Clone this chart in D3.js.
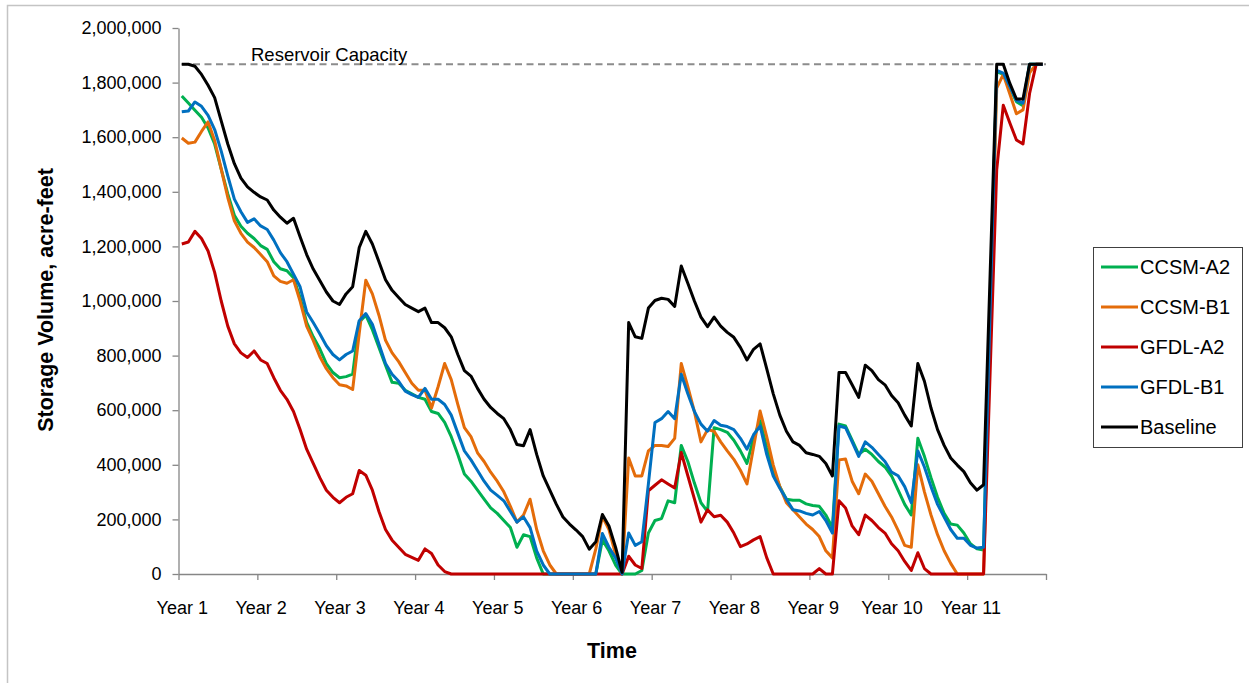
<!DOCTYPE html>
<html>
<head>
<meta charset="utf-8">
<script src="https://cdn.jsdelivr.net/npm/d3@7"></script>
<style>
  html, body { margin: 0; padding: 0; background: #fff; }
  svg { display: block; }
  text { font-family: "Liberation Sans", Arial, sans-serif; fill: #000; }
</style>
</head>
<body>
<svg id="chart" width="1249" height="683"></svg>
<script>
// ---- Data (thousand acre-feet), monthly, 11 years ----
const yearLabels = ["Year 1","Year 2","Year 3","Year 4","Year 5","Year 6","Year 7","Year 8","Year 9","Year 10","Year 11"];
const yTickValues = [0, 200, 400, 600, 800, 1000, 1200, 1400, 1600, 1800, 2000];
const capacity = 1867;
const seriesNames = ["CCSM-A2", "CCSM-B1", "GFDL-A2", "GFDL-B1", "Baseline"];
const seriesColors = ["#00b050", "#e46c0a", "#c00000", "#0070c0", "#000000"];

const ccsmA2 = [
1751,1725,1699,1673,1634,1575,1483,1392,1314,1274,
1248,1229,1203,1189,1144,1118,1111,1085,1013,922,
869,825,771,738,719,723,732,922,948,895,
830,765,702,699,673,660,647,640,595,588,
555,503,438,366,340,307,274,242,222,196,
170,98,144,137,59,0,0,0,0,0,
0,0,0,0,125,85,33,0,0,0,
13,150,196,203,268,261,471,412,333,261,
229,536,529,519,490,451,405,497,562,464,
379,320,274,270,270,257,251,248,216,170,
549,542,490,438,457,438,412,392,359,307,
255,216,497,431,353,281,222,183,179,150,
111,92,88,950,1840,1830,1780,1730,1715,1867,
1867,1867];

const ccsmB1 = [
1597,1578,1582,1621,1656,1588,1483,1379,1294,1248,
1216,1196,1170,1144,1092,1072,1065,1078,1000,908,
856,797,752,719,693,689,676,882,1076,1026,
948,856,810,778,738,699,673,673,608,686,
771,712,621,536,503,444,412,373,340,301,
248,190,216,274,163,85,33,0,0,0,
0,0,0,92,210,163,72,0,425,359,
359,451,471,471,467,497,771,686,595,484,
529,523,484,451,420,380,330,464,597,503,
399,320,261,235,209,183,163,137,85,59,
418,421,340,294,366,340,294,248,209,160,
105,98,400,301,216,144,85,39,0,0,
0,0,0,900,1780,1830,1758,1686,1700,1836,
1867,1867];

const gfdlA2 = [
1209,1216,1255,1229,1183,1105,1000,908,843,810,
793,817,784,771,719,673,640,595,529,457,
405,353,307,281,261,281,294,379,362,307,
229,163,124,98,72,61,50,92,75,33,
9,0,0,0,0,0,0,0,0,0,
0,0,0,0,0,0,0,0,0,0,
0,0,0,0,0,0,0,0,65,33,
20,305,325,345,330,315,445,360,275,190,
235,210,215,190,150,100,110,125,137,60,
0,0,0,0,0,0,0,20,0,0,
268,242,176,144,216,196,170,150,111,85,
46,13,78,20,0,0,0,0,0,0,
0,0,0,740,1480,1717,1652,1590,1575,1760,
1867,1867];

const gfdlB1 = [
1693,1696,1729,1713,1680,1628,1549,1458,1373,1327,
1288,1301,1275,1262,1223,1177,1144,1098,1052,960,
921,880,836,804,784,804,817,928,954,915,
843,771,732,706,670,657,647,680,640,640,
621,582,516,451,418,379,340,307,288,268,
229,190,209,170,85,33,0,0,0,0,
0,0,0,0,148,98,59,0,150,105,
118,330,555,569,595,569,732,660,595,549,
523,562,545,540,529,497,457,510,542,438,
359,314,274,235,231,222,216,229,196,150,
542,536,484,431,484,464,438,412,373,360,
320,261,451,392,320,255,209,163,131,131,
105,95,98,970,1845,1835,1785,1735,1725,1867,
1867,1867];

const baseline = [
1867,1867,1860,1830,1790,1745,1660,1575,1503,1450,
1418,1398,1381,1370,1333,1307,1285,1303,1235,1170,
1117,1075,1033,1000,987,1026,1052,1196,1255,1209,
1144,1078,1039,1013,987,974,961,974,921,921,
902,869,804,745,725,680,640,610,588,569,
529,474,470,529,438,359,307,255,209,183,
161,137,91,118,218,176,98,6,921,869,
863,974,1002,1010,1006,980,1128,1065,1000,941,
906,941,908,885,867,830,784,823,843,752,
660,582,523,484,471,444,438,431,405,359,
738,738,693,647,765,745,712,693,654,627,
582,542,771,706,608,529,471,425,399,375,
334,307,327,1100,1867,1867,1797,1740,1740,1867,
1867,1867];

const seriesData = [ccsmA2, ccsmB1, gfdlA2, gfdlB1, baseline];

// ---- Layout ----
const svg = d3.select("#chart");
const plot = { left: 178.5, right: 1046, top: 28, bottom: 574 };
const nMonths = baseline.length;

const x = d3.scaleLinear().domain([0, nMonths]).range([plot.left, plot.right]);
const y = d3.scaleLinear().domain([0, 2000]).range([plot.bottom, plot.top]);
const axisColor = "#868686";

// outer border
svg.append("rect").attr("x", 7.5).attr("y", 5.5).attr("width", 1400).attr("height", 800)
  .attr("fill", "none").attr("stroke", "#c4c4c4").attr("stroke-width", 1.5);

// y axis
const yAxis = svg.append("g").attr("transform", `translate(${plot.left},0)`)
  .call(d3.axisLeft(y).tickValues(yTickValues).tickSize(6).tickSizeOuter(0)
    .tickFormat(d => d3.format(",")(d * 1000)));
yAxis.select(".domain").attr("stroke", axisColor).attr("stroke-width", 1.3);
yAxis.selectAll(".tick line").attr("stroke", axisColor).attr("stroke-width", 1.3);
yAxis.selectAll(".tick text").attr("x", -17).attr("font-size", 18)
  .attr("font-family", "Liberation Sans, Arial, sans-serif").attr("fill", "#000");

// x axis (tick marks at year boundaries)
const yearBounds = d3.range(0, nMonths + 1, 12);
const xAxis = svg.append("g").attr("transform", `translate(0,${plot.bottom})`)
  .call(d3.axisBottom(x).tickValues(yearBounds).tickSize(6).tickSizeOuter(0).tickFormat(""));
xAxis.select(".domain").attr("stroke", axisColor).attr("stroke-width", 1.3);
xAxis.selectAll(".tick line").attr("stroke", axisColor).attr("stroke-width", 1.3);

// x labels centered on first month of each year
const labelPos = yearLabels.map((d, k) => k * 12 + 0.5);
const xLab = svg.append("g").attr("transform", `translate(0,${plot.bottom})`)
  .call(d3.axisBottom(x).tickValues(labelPos).tickSize(0)
    .tickFormat((d, k) => yearLabels[k]));
xLab.select(".domain").remove();
xLab.selectAll(".tick text").attr("y", 34).attr("dy", "0.32em").attr("font-size", 18)
  .attr("font-family", "Liberation Sans, Arial, sans-serif").attr("fill", "#000");

// axis titles
svg.append("text").attr("transform", "translate(45,300) rotate(-90)")
  .attr("text-anchor", "middle").attr("dy", "0.35em")
  .attr("font-size", 21.5).attr("font-weight", "bold").text("Storage Volume, acre-feet");
svg.append("text").attr("x", 612).attr("y", 650).attr("text-anchor", "middle").attr("dy", "0.35em")
  .attr("font-size", 21.5).attr("font-weight", "bold").text("Time");

// capacity line
svg.append("line").attr("x1", plot.left + 3).attr("x2", plot.right)
  .attr("y1", y(capacity)).attr("y2", y(capacity))
  .attr("stroke", "#8c8c8c").attr("stroke-width", 2).attr("stroke-dasharray", "7,4.5");
svg.append("text").attr("x", 251).attr("y", y(capacity) - 3).attr("font-size", 18.5)
  .text("Reservoir Capacity");

// series lines
const line = d3.line().x((d, i) => x(i + 0.5)).y(d => y(d));
seriesData.forEach((s, k) => {
  svg.append("path").datum(s).attr("d", line)
    .attr("fill", "none").attr("stroke", seriesColors[k]).attr("stroke-width", 3)
    .attr("stroke-linejoin", "round");
});

// legend
const lg = svg.append("g");
lg.append("rect").attr("x", 1093.5).attr("y", 247.5).attr("width", 149).attr("height", 200)
  .attr("fill", "#fff").attr("stroke", "#404040").attr("stroke-width", 1);
seriesNames.forEach((n, k) => {
  const yy = 267 + k * 40;
  lg.append("line").attr("x1", 1101).attr("x2", 1138).attr("y1", yy).attr("y2", yy)
    .attr("stroke", seriesColors[k]).attr("stroke-width", 3);
  lg.append("text").attr("x", 1140).attr("y", yy).attr("dy", "0.35em")
    .attr("font-size", 20).text(n);
});
</script>
</body>
</html>
